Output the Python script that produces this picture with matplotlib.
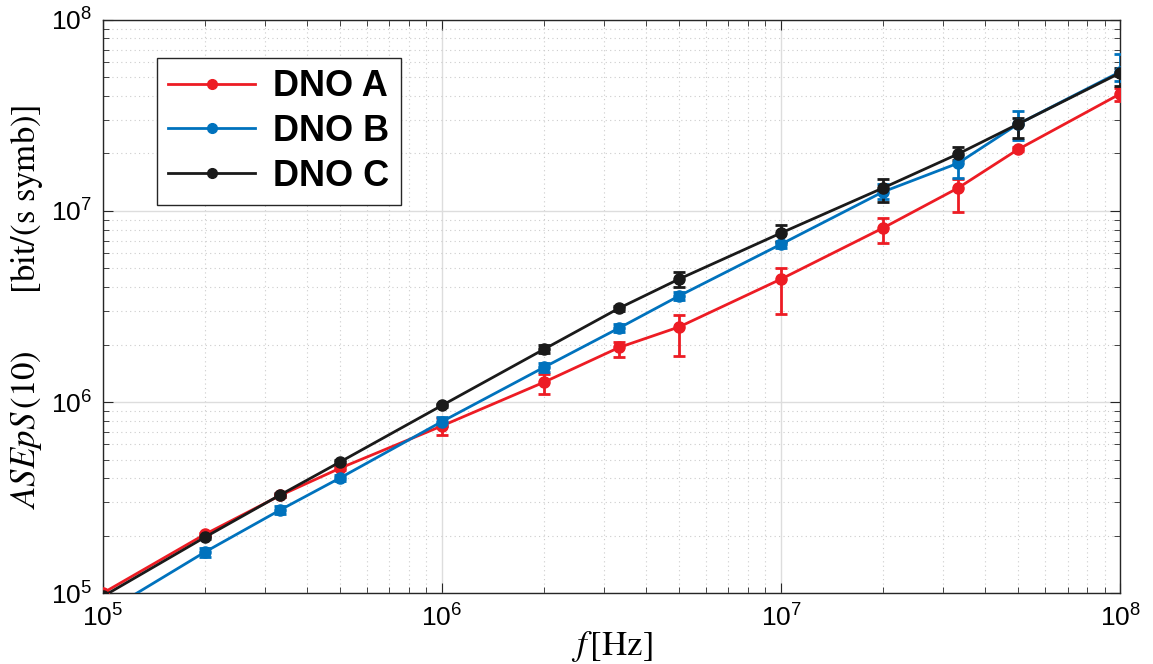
import matplotlib
matplotlib.use('Agg')
import matplotlib.pyplot as plt
import numpy as np
from matplotlib.ticker import LogLocator, NullFormatter
from matplotlib.lines import Line2D

plt.rcParams['font.family'] = ['Liberation Sans', 'DejaVu Sans']
plt.rcParams['mathtext.fontset'] = 'stix'

# frequencies [Hz]
freq = [1e5, 2e5, 3.33e5, 5e5, 1e6, 2e6, 3.33e6, 5e6, 1e7, 2e7, 3.33e7, 5e7, 1e8]

# DNO A
dno_a = [1.0e5, 2.03e5, 3.24e5, 4.5e5, 7.5e5, 1.27e6, 1.93e6, 2.47e6, 4.4e6, 8.15e6, 1.32e7, 2.1e7, 4.1e7]
dno_a_lo = [1.0e5, 2.0e5, 3.2e5, 4.4e5, 6.7e5, 1.10e6, 1.72e6, 1.74e6, 2.89e6, 6.8e6, 9.9e6, 2.05e7, 3.75e7]
dno_a_hi = [1.0e5, 2.06e5, 3.3e5, 4.6e5, 8.2e5, 1.40e6, 2.05e6, 2.85e6, 5.0e6, 9.2e6, 1.47e7, 2.15e7, 4.4e7]

# DNO B
dno_b = [7.8e4, 1.64e5, 2.72e5, 4.0e5, 7.9e5, 1.52e6, 2.44e6, 3.59e6, 6.7e6, 1.26e7, 1.78e7, 2.85e7, 5.35e7]
dno_b_lo = [7.6e4, 1.55e5, 2.58e5, 3.85e5, 7.5e5, 1.43e6, 2.32e6, 3.42e6, 6.4e6, 1.15e7, 1.49e7, 2.36e7, 4.8e7]
dno_b_hi = [8.0e4, 1.73e5, 2.86e5, 4.15e5, 8.3e5, 1.61e6, 2.56e6, 3.76e6, 7.0e6, 1.38e7, 1.95e7, 3.34e7, 6.64e7]

# DNO C
dno_c = [9.6e4, 1.96e5, 3.26e5, 4.85e5, 9.6e5, 1.89e6, 3.1e6, 4.4e6, 7.67e6, 1.32e7, 1.99e7, 2.85e7, 5.28e7]
dno_c_lo = [9.5e4, 1.92e5, 3.2e5, 4.75e5, 9.4e5, 1.80e6, 3.0e6, 4.0e6, 6.9e6, 1.11e7, 1.85e7, 2.42e7, 4.5e7]
dno_c_hi = [9.7e4, 2.0e5, 3.32e5, 4.95e5, 9.8e5, 1.98e6, 3.2e6, 4.8e6, 8.4e6, 1.47e7, 2.16e7, 3.07e7, 5.6e7]

series = [
    ('DNO A', dno_a, dno_a_lo, dno_a_hi, '#ED1C24'),
    ('DNO B', dno_b, dno_b_lo, dno_b_hi, '#0072BD'),
    ('DNO C', dno_c, dno_c_lo, dno_c_hi, '#1A1A1A'),
]

fig = plt.figure(figsize=(11.53, 6.64), dpi=100)
ax = fig.add_axes([0.0893, 0.1069, 0.8821, 0.863])

handles = []
for name, y, lo, hi, col in series:
    y = np.array(y)
    yerr = [y - np.array(lo), np.array(hi) - y]
    ax.errorbar(freq, y, yerr=yerr, color=col, lw=2.0, marker='o', ms=8,
                elinewidth=2.0, capsize=4, capthick=2.0, zorder=3)
    handles.append(Line2D([], [], color=col, lw=2.0, marker='o', ms=7, label=name))

ax.set_xscale('log')
ax.set_yscale('log')
ax.set_xlim(1e5, 1e8)
ax.set_ylim(1e5, 1e8)

ax.xaxis.set_minor_locator(LogLocator(base=10, subs=np.arange(2, 10)))
ax.yaxis.set_minor_locator(LogLocator(base=10, subs=np.arange(2, 10)))
ax.xaxis.set_minor_formatter(NullFormatter())
ax.yaxis.set_minor_formatter(NullFormatter())

ax.grid(True, which='major', color='#DDDDDD', lw=1.0, zorder=0)
ax.grid(True, which='minor', color='#CCCCCC', lw=0.8, ls=(0, (1, 3)), zorder=0)
ax.set_axisbelow(True)

ax.tick_params(which='both', direction='in', top=True, right=True, colors='#262626')
ax.tick_params(which='major', length=7, labelsize=19, pad=8, labelcolor='black')
ax.tick_params(which='minor', length=4)
for s in ax.spines.values():
    s.set_color('#262626')
    s.set_linewidth(1.0)

ax.set_xlabel(r'$f\,\mathrm{[Hz]}$', fontsize=25, labelpad=-2)
ax.set_ylabel(r'$ASEpS\,\mathrm{(10)}\quad\quad\;\mathrm{[bit/(s\ symb)]}$', fontsize=25, labelpad=4)

leg = ax.legend(handles=handles, loc='upper left', bbox_to_anchor=(0.053, 0.934),
                prop={'weight': 'bold', 'size': 26}, frameon=True, fancybox=False,
                edgecolor='#262626', framealpha=1, handlelength=2.4,
                borderpad=0.32, labelspacing=0.27, handletextpad=0.5, borderaxespad=0)
leg.get_frame().set_linewidth(1.0)

fig.savefig('out.png', dpi=100)
